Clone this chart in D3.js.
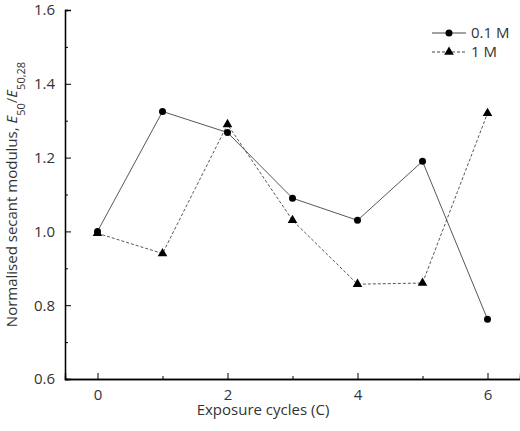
<!DOCTYPE html>
<html><head><meta charset="utf-8">
<script src="https://cdn.jsdelivr.net/npm/d3@7"></script>
<style>body{margin:0;background:#fff}text{font-family:"Open Sans",sans-serif;fill:#333}</style>
</head><body><div id="chart"></div>
<script>
var cycles = [0, 1, 2, 3, 4, 5, 6];
var series01 = [1.00, 1.325, 1.268, 1.09, 1.03, 1.19, 0.762];
var series1 = [0.995, 0.94, 1.29, 1.03, 0.857, 0.86, 1.32];
var yTicks = [0.6, 0.8, 1.0, 1.2, 1.4, 1.6];

var svg = d3.select("#chart").append("svg").attr("width", 520).attr("height", 431);
var x = d3.scaleLinear().domain([-0.5, 6.5]).range([65, 520]);
var y = d3.scaleLinear().domain([0.6, 1.6]).range([379, 10]);

// axes with inward ticks
svg.append("g").attr("transform", "translate(0,379)")
  .call(d3.axisBottom(x).tickValues([0, 2, 4, 6]).tickSize(-6).tickPadding(10).tickFormat(d3.format("d")));
svg.append("g").attr("transform", "translate(0,379)")
  .call(d3.axisBottom(x).tickValues([1, 3, 5]).tickSize(-3).tickFormat(""));
svg.append("g").attr("transform", "translate(65,0)")
  .call(d3.axisLeft(y).tickValues(yTicks).tickSize(-6).tickPadding(10).tickFormat(d3.format(".1f")));
svg.append("g").attr("transform", "translate(65,0)")
  .call(d3.axisLeft(y).tickValues([0.7, 0.9, 1.1, 1.3, 1.5]).tickSize(-3).tickFormat(""));
svg.selectAll(".domain").attr("stroke", "#000").attr("stroke-width", 1.3);
svg.selectAll(".tick line").attr("stroke", "#000");
svg.selectAll(".tick text").style("font-size", "15px").attr("fill", "#333");

var line = d3.line().x(function(d, i) { return x(cycles[i]); }).y(function(d) { return y(d); });

svg.append("path").datum(series01).attr("d", line)
  .attr("fill", "none").attr("stroke", "#444").attr("stroke-width", 0.9);
svg.append("path").datum(series1).attr("d", line)
  .attr("fill", "none").attr("stroke", "#444").attr("stroke-width", 0.9).attr("stroke-dasharray", "3,2");

svg.selectAll(".dot").data(series01).enter().append("circle")
  .attr("cx", function(d, i) { return x(cycles[i]); }).attr("cy", function(d) { return y(d); })
  .attr("r", 3.5).attr("fill", "#000");
var tri = d3.symbol().type(d3.symbolTriangle).size(40);
svg.selectAll(".tri").data(series1).enter().append("path")
  .attr("d", tri)
  .attr("transform", function(d, i) { return "translate(" + x(cycles[i]) + "," + y(d) + ")"; })
  .attr("fill", "#000");

// legend
var lg = svg.append("g");
lg.append("line").attr("x1", 432).attr("x2", 466).attr("y1", 33).attr("y2", 33).attr("stroke", "#444");
lg.append("circle").attr("cx", 449).attr("cy", 33).attr("r", 3.5).attr("fill", "#000");
lg.append("text").attr("x", 471).attr("y", 38).style("font-size", "15px").text("0.1 M");
lg.append("line").attr("x1", 432).attr("x2", 466).attr("y1", 52).attr("y2", 52).attr("stroke", "#444").attr("stroke-dasharray", "3,2");
lg.append("path").attr("d", tri).attr("transform", "translate(449,52)").attr("fill", "#000");
lg.append("text").attr("x", 471).attr("y", 57).style("font-size", "15px").text("1 M");

// axis titles
svg.append("text").attr("x", 263).attr("y", 415).attr("text-anchor", "middle")
  .style("font-size", "15px").text("Exposure cycles (C)");
var yt = svg.append("text").attr("transform", "translate(17," + y(1.1) + ") rotate(-90)")
  .attr("text-anchor", "middle").style("font-size", "15px");
yt.append("tspan").text("Normalised secant modulus, ");
yt.append("tspan").style("font-style", "italic").text("E");
yt.append("tspan").attr("baseline-shift", "sub").style("font-size", "11px").text("50");
yt.append("tspan").text("/");
yt.append("tspan").style("font-style", "italic").text("E");
yt.append("tspan").attr("baseline-shift", "sub").style("font-size", "11px").text("50,28");
</script></body></html>
